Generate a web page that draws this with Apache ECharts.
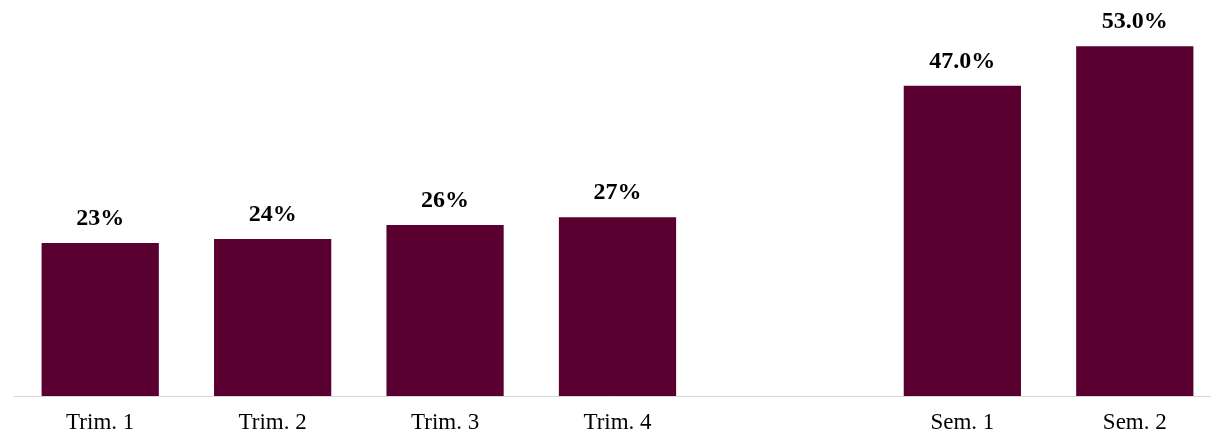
<!DOCTYPE html>
<html>
<head>
<meta charset="utf-8">
<script src="https://cdn.jsdelivr.net/npm/echarts@6/dist/echarts.min.js"></script>
<style>
html,body{margin:0;padding:0;background:#fff;}
#c{width:1211px;height:434px;}
</style>
</head>
<body>
<div id="c"></div>
<script>
const categories = ['Trim. 1', 'Trim. 2', 'Trim. 3', 'Trim. 4', '', 'Sem. 1', 'Sem. 2'];
const values = [23.2, 23.8, 25.9, 27.1, null, 47.0, 53.0];
const labelDecimals = [0, 0, 0, 0, 0, 1, 1];

const chart = echarts.init(document.getElementById('c'));
chart.setOption({
  animation: false,
  grid: { left: 14, width: 1207, top: 0, bottom: 38, outerBoundsMode: 'none', containLabel: false },
  xAxis: {
    type: 'category',
    data: categories,
    axisLine: { lineStyle: { color: '#d9d9d9', width: 1 } },
    axisTick: { show: false },
    axisLabel: { color: '#000', fontFamily: 'Liberation Serif', fontSize: 23, margin: 15 }
  },
  yAxis: { type: 'value', min: 0, max: 60, show: false, splitLine: { show: false } },
  series: [{
    type: 'bar',
    data: values,
    barCategoryGap: '32%',
    itemStyle: { color: '#5A0030' },
    label: {
      show: true,
      position: 'top',
      distance: 12,
      color: '#000',
      fontFamily: 'Liberation Serif',
      fontWeight: 'bold',
      fontSize: 24,
      formatter: p => p.value.toFixed(labelDecimals[p.dataIndex]) + '%'
    }
  }]
});
</script>
</body>
</html>
